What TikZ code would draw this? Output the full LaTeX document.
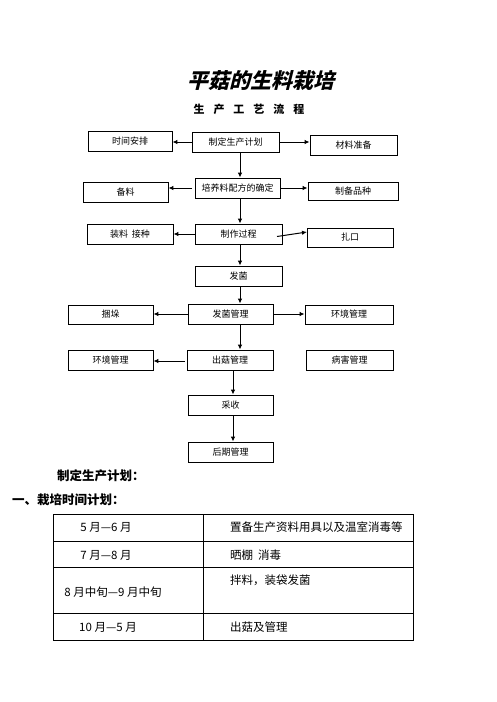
\documentclass[tikz,border=0pt]{standalone}
\usepackage{fontspec}
\usetikzlibrary{arrows.meta}
\setmainfont{Noto Sans CJK SC}
\newfontfamily\cjk{Noto Sans CJK SC}
\newfontfamily\cjktitle{Noto Sans CJK SC}[FakeSlant=0.25]
\begin{document}
\begin{tikzpicture}[x=1pt,y=-1pt,
  box/.style={draw,line width=0.8pt,inner sep=0pt,minimum width=86pt,minimum height=20pt,font=\cjk\fontsize{9}{9}\selectfont},
  arr/.style={line width=1pt,-{Latex[length=5pt,width=4.5pt]}},
  cell/.style={font=\cjk\fontsize{11.5}{12}\selectfont,inner sep=0pt},
  head/.style={font=\cjk\bfseries\fontsize{12.5}{13}\selectfont,inner sep=0pt,anchor=west}]
\useasboundingbox (0,0) rectangle (496,702);
% titles
\node[font=\cjktitle\bfseries\fontsize{21}{21}\selectfont,inner sep=0pt] (title) at (261,80) {平菇的生料栽培};
\node[font=\cjk\bfseries\fontsize{11}{11}\selectfont,inner sep=0pt] (sub) at (249,109) {生\hspace{9pt}产\hspace{9pt}工\hspace{9pt}艺\hspace{9pt}流\hspace{9pt}程};
% boxes
\node[box,minimum width=87pt] (plan) at (235.5,142) {制定生产计划};
\node[box,minimum width=84pt] (time) at (130,141) {时间安排};
\node[box,minimum width=87pt] (mat) at (353.5,145) {材料准备};
\node[box,minimum width=85pt] (recipe) at (237.5,188) {培养料配方的确定};
\node[box,minimum width=85pt] (prep) at (125.5,192) {备料};
\node[box,minimum width=90pt,minimum height=18pt] (strain) at (353,191) {制备品种};
\node[box,minimum width=87pt] (make) at (238.5,234) {制作过程};
\node[box] (load) at (130,234) {装料\hspace{4pt}接种};
\node[box,minimum height=19pt] (tie) at (350,237.5) {扎口};
\node[box,minimum width=87pt] (spawn) at (238.5,276) {发菌};
\node[box,minimum width=85pt] (spawnm) at (230.5,314) {发菌管理};
\node[box,minimum width=85pt,minimum height=19pt] (stack) at (110.5,314.5) {捆垛};
\node[box,minimum width=88pt,minimum height=19pt] (env1) at (349,314.5) {环境管理};
\node[box] (fruit) at (230,360) {出菇管理};
\node[box,minimum width=85pt] (env2) at (110.5,360) {环境管理};
\node[box,minimum width=87pt] (disease) at (349.5,360) {病害管理};
\node[box,minimum width=85pt] (harvest) at (230.5,405) {采收};
\node[box,minimum width=85pt] (late) at (230.5,452) {后期管理};
% connectors
\draw[arr] (plan.west) -- (time.east |- plan.west);
\draw[arr] (plan.east) -- (mat.west |- plan.east);
\draw[arr] (plan.south -| 240,0) -- (recipe.north -| 240,0);
\coordinate (rl) at (192,188);
\draw[arr] (rl) -- (prep.east |- rl);
\draw[arr] (recipe.east) -- (strain.west |- recipe.east);
\draw[arr] (recipe.south -| 240,0) -- (make.north -| 240,0);
\draw[arr] (make.west) -- (load.east |- make.west);
\coordinate (mr) at (277,236.5);
\coordinate (te) at (307,232);
\draw[arr] (mr) -- (te);
\draw[arr] (make.south -| 240,0) -- (spawn.north -| 240,0);
\draw[arr] (spawn.south -| 240,0) -- (spawnm.north -| 240,0);
\draw[arr] (spawnm.west) -- (stack.east |- spawnm.west);
\draw[arr] (spawnm.east) -- (env1.west |- spawnm.east);
\draw[arr] (spawnm.south -| 240,0) -- (fruit.north -| 240,0);
\coordinate (fl) at (185,361);
\draw[arr] (fl) -- (env2.east |- fl);
\draw[arr] (fruit.south -| 233,0) -- (harvest.north -| 233,0);
\draw[arr] (harvest.south -| 233,0) -- (late.north -| 233,0);
% headings
\node[head] (h1) at (57,476) {制定生产计划：};
\node[head] (h2) at (12,500) {一、栽培时间计划：};
% table
\draw[line width=1pt] (53,514) rectangle (413,640);
\draw[line width=0.8pt] (203,514) -- (203,640);
\draw[line width=0.8pt] (53,541) -- (413,541);
\draw[line width=0.8pt] (53,567) -- (413,567);
\draw[line width=0.8pt] (53,613) -- (413,613);
\node[cell] (l1) at (106,527) {5 月—6 月};
\node[cell] (l2) at (106,555) {7 月—8 月};
\node[cell] (l3) at (113,592) {8 月中旬—9 月中旬};
\node[cell] (l4) at (108,627) {10 月—5 月};
\node[cell,anchor=west] (r1) at (230,527) {置备生产资料用具以及温室消毒等};
\node[cell,anchor=west] (r2) at (230,555) {晒棚\hspace{5pt}消毒};
\node[cell,anchor=west] (r3) at (230,580) {拌料，装袋发菌};
\node[cell,anchor=west] (r4) at (230,627) {出菇及管理};
\end{tikzpicture}
\end{document}
